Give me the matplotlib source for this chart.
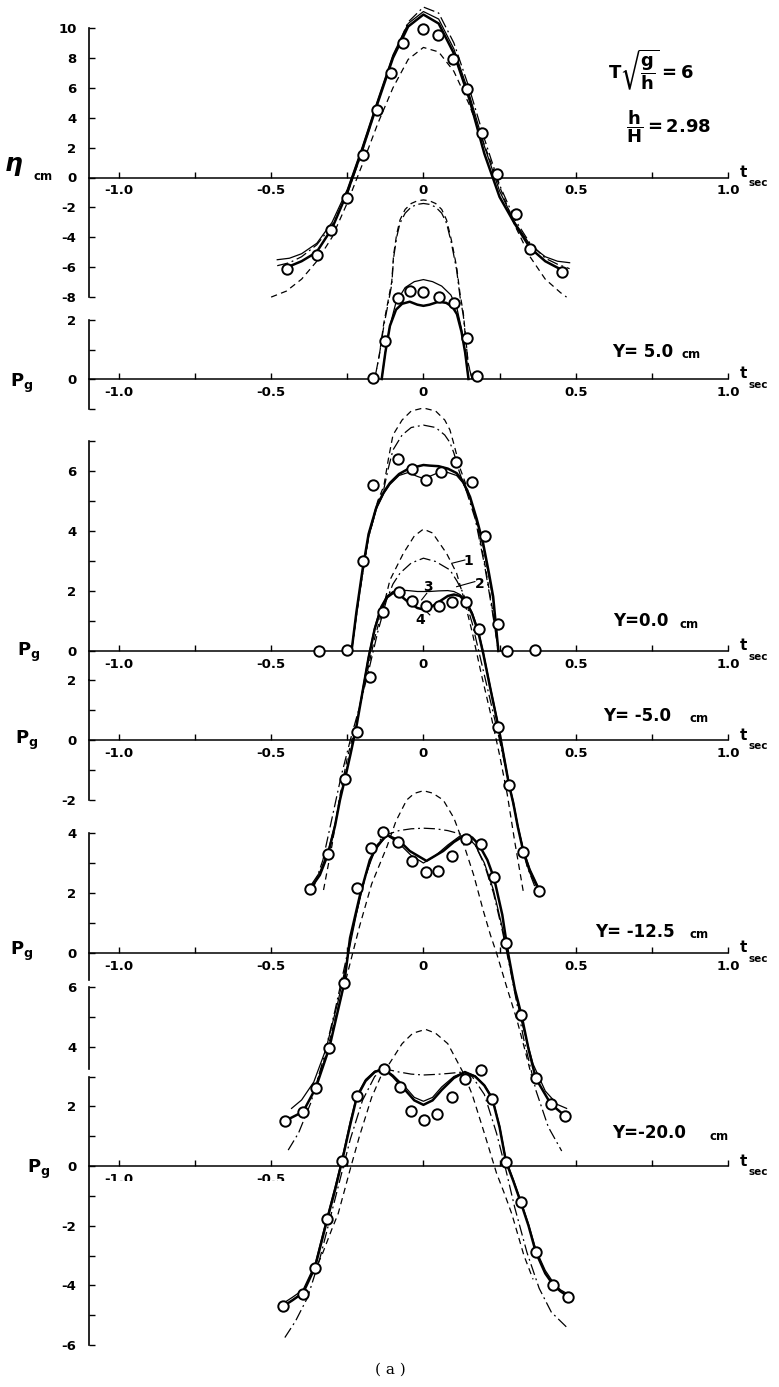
import matplotlib.pyplot as plt
import matplotlib.transforms as mtransforms

W, H = 779, 1387
plt.rcParams['font.family'] = 'DejaVu Sans'
plt.rcParams['font.weight'] = 'bold'
plt.rcParams['mathtext.fontset'] = 'dejavusans'
plt.rcParams['axes.unicode_minus'] = False

# ---- panel A : surface elevation eta (cm)
eta_mark_t = [-0.447, -0.351, -0.302, -0.252, -0.198, -0.154, -0.107, -0.068, -0.003,
              0.049, 0.096, 0.142, 0.191, 0.240, 0.304, 0.350, 0.456]
eta_mark = [-6.09, -5.2, -3.52, -1.35, 1.51, 4.53, 6.99, 9.0, 9.9,
            9.56, 7.93, 5.92, 2.97, 0.23, -2.45, -4.75, -6.3]
eta_thick_t = [-0.447, -0.40, -0.351, -0.30, -0.25, -0.20, -0.15, -0.10, -0.05, 0.0,
               0.05, 0.10, 0.15, 0.20, 0.25, 0.30, 0.35, 0.40, 0.456]
eta_thick = [-6.0, -5.6, -5.0, -3.4, -1.0, 1.9, 5.0, 8.0, 10.1, 10.9,
             10.3, 8.3, 5.3, 1.6, -1.3, -3.1, -4.7, -5.6, -6.2]
eta_t = [-0.48, -0.44, -0.40, -0.35, -0.30, -0.25, -0.20, -0.15, -0.10, -0.05, 0.0,
         0.05, 0.10, 0.15, 0.20, 0.25, 0.30, 0.35, 0.40, 0.44, 0.48]
eta_thin = [-5.5, -5.4, -5.1, -4.4, -3.0, -0.8, 2.1, 5.2, 8.2, 10.3, 11.1,
            10.6, 8.6, 5.6, 2.1, -0.9, -3.0, -4.5, -5.3, -5.6, -5.7]
eta_dashdot = [-5.9, -5.7, -5.3, -4.5, -3.2, -1.1, 1.8, 5.0, 8.1, 10.4, 11.4,
               11.0, 9.0, 6.0, 2.6, -0.5, -2.8, -4.4, -5.4, -5.8, -6.1]
eta_dashed_t = [-0.50, -0.45, -0.40, -0.35, -0.30, -0.25, -0.20, -0.15, -0.10, -0.05, 0.0,
                0.05, 0.10, 0.15, 0.20, 0.25, 0.30, 0.35, 0.40, 0.45, 0.47]
eta_dashed = [-8.0, -7.6, -6.8, -5.6, -4.0, -1.7, 0.9, 3.6, 6.0, 7.9, 8.7,
              8.4, 7.1, 4.9, 2.2, -0.6, -3.2, -5.3, -6.8, -7.7, -8.0]

# ---- panel B : Y = 5.0 cm
pB_mark_t = [-0.165, -0.126, -0.085, -0.044, -0.003, 0.051, 0.101, 0.144, 0.177]
pB_mark = [0.05, 1.29, 2.76, 2.99, 2.94, 2.79, 2.57, 1.38, 0.1]
pB_thick_t = [-0.137, -0.125, -0.11, -0.09, -0.07, -0.045, -0.02, 0.0, 0.02, 0.05,
              0.075, 0.095, 0.11, 0.125, 0.137, 0.148]
pB_thick = [0.0, 0.9, 1.8, 2.35, 2.55, 2.62, 2.52, 2.48, 2.52, 2.62,
            2.58, 2.45, 2.2, 1.6, 0.9, 0.0]
pB_thin_t = [-0.137, -0.125, -0.11, -0.09, -0.06, -0.03, 0.0, 0.03, 0.06, 0.09,
             0.11, 0.125, 0.137, 0.148]
pB_thin = [0.0, 0.9, 1.8, 2.6, 3.1, 3.3, 3.37, 3.3, 3.15, 2.85, 2.4, 1.7, 0.9, 0.0]
pB_tall_t = [-0.16, -0.145, -0.13, -0.115, -0.104, -0.098, -0.088, -0.077, -0.06, -0.04,
             -0.02, 0.0, 0.02, 0.04, 0.06, 0.076, 0.092, 0.109, 0.12, 0.131, 0.147, 0.16]
pB_dashed = [0.0, 0.8, 1.9, 2.7, 3.3, 4.2, 4.9, 5.39, 5.75, 5.95,
             6.04, 6.07, 6.04, 5.95, 5.75, 5.39, 4.7, 3.8, 2.9, 2.23, 0.53, 0.0]
pB_dashdot = [0.0, 0.8, 1.8, 2.6, 3.2, 4.1, 4.8, 5.28, 5.62, 5.83,
              5.92, 5.95, 5.92, 5.83, 5.62, 5.28, 4.6, 3.7, 2.8, 2.15, 0.5, 0.0]

# ---- panel C : Y = 0.0 cm
pC_mark_t = [-0.342, -0.25, -0.2, -0.167, -0.085, -0.037, 0.008, 0.057, 0.106, 0.16,
             0.202, 0.246, 0.273, 0.366]
pC_mark = [0.0, 0.03, 3.0, 5.53, 6.4, 6.07, 5.7, 5.98, 6.29, 5.62, 3.83, 0.89, 0.0, 0.03]
pC_t = [-0.236, -0.22, -0.20, -0.18, -0.154, -0.13, -0.11, -0.08, -0.05, -0.02, 0.0,
        0.02, 0.05, 0.08, 0.109, 0.13, 0.153, 0.175, 0.196, 0.215, 0.229, 0.246]
pC_thick = [0.0, 1.3, 2.7, 3.9, 4.81, 5.3, 5.6, 5.9, 6.07, 6.15, 6.2,
            6.18, 6.16, 6.08, 5.93, 5.65, 5.14, 4.4, 3.59, 2.6, 1.81, 0.0]
pC_thin = [0.0, 1.2, 2.6, 3.8, 4.75, 5.25, 5.55, 5.85, 5.95, 5.82, 5.75,
           5.82, 5.95, 5.95, 5.85, 5.6, 5.1, 4.35, 3.5, 2.5, 1.7, 0.0]
pC_tall_t = [-0.236, -0.21, -0.18, -0.15, -0.13, -0.115, -0.10, -0.07, -0.04, 0.0,
             0.04, 0.07, 0.087, 0.10, 0.12, 0.142, 0.17, 0.20, 0.225, 0.246]
pC_dashed = [0.0, 2.0, 3.9, 5.0, 5.5, 6.4, 7.2, 7.7, 8.0, 8.1,
             8.0, 7.7, 7.37, 6.9, 6.1, 5.48, 4.5, 3.0, 1.5, 0.0]
pC_dashdot = [0.0, 1.9, 3.8, 4.9, 5.4, 6.1, 6.7, 7.2, 7.45, 7.53,
              7.45, 7.2, 6.95, 6.6, 5.9, 5.3, 4.4, 2.9, 1.4, 0.0]

# ---- panel D : Y = -5.0 cm
pD_mark_t = [-0.373, -0.313, -0.258, -0.219, -0.174, -0.132, -0.08, -0.037, 0.01, 0.052,
             0.093, 0.139, 0.182, 0.246, 0.281, 0.328, 0.38]
pD_mark = [-4.98, -3.81, -1.31, 0.28, 2.11, 4.28, 4.92, 4.64, 4.48, 4.48,
           4.61, 4.61, 3.69, 0.44, -1.5, -3.72, -5.02]
pD_t = [-0.373, -0.34, -0.313, -0.29, -0.274, -0.258, -0.24, -0.22, -0.20, -0.18, -0.16,
        -0.14, -0.12, -0.10, -0.08, -0.05, -0.02, 0.0, 0.02, 0.05, 0.08, 0.10, 0.12,
        0.14, 0.16, 0.18, 0.196, 0.22, 0.246, 0.265, 0.281, 0.295, 0.31, 0.328, 0.35, 0.38]
pD_thick = [-4.98, -4.5, -3.8, -2.85, -2.0, -1.31, -0.5, 0.45, 1.6, 2.75, 3.7,
            4.35, 4.75, 4.9, 4.85, 4.6, 4.4, 4.35, 4.4, 4.6, 4.8, 4.85, 4.8,
            4.6, 4.2, 3.6, 2.9, 1.7, 0.44, -0.6, -1.5, -2.1, -2.9, -3.72, -4.4, -5.02]
pD_thin = [-4.9, -4.4, -3.7, -2.8, -1.95, -1.25, -0.45, 0.5, 1.65, 2.8, 3.75,
           4.45, 4.8, 4.95, 5.0, 4.98, 4.95, 4.95, 4.95, 4.97, 4.98, 4.95, 4.85,
           4.65, 4.25, 3.65, 2.95, 1.75, 0.5, -0.55, -1.45, -2.05, -2.85, -3.65, -4.3, -4.95]
pD_dashdot_t = [-0.36, -0.33, -0.30, -0.27, -0.24, -0.21, -0.18, -0.15, -0.121, -0.10,
                -0.077, -0.04, 0.0, 0.04, 0.087, 0.11, 0.131, 0.16, 0.19, 0.22, 0.25,
                0.28, 0.31, 0.34, 0.37]
pD_dashdot = [-4.9, -4.0, -2.6, -1.2, 0.0, 1.1, 2.3, 3.6, 4.67, 5.2,
              5.56, 5.9, 6.06, 5.95, 5.67, 5.3, 4.89, 3.9, 2.6, 1.3, 0.0,
              -1.4, -2.9, -4.2, -5.0]
pD_dashed_t = [-0.328, -0.30, -0.275, -0.25, -0.22, -0.19, -0.16, -0.13, -0.11, -0.066,
               -0.03, 0.0, 0.03, 0.076, 0.109, 0.131, 0.16, 0.19, 0.22, 0.25, 0.275,
               0.30, 0.328]
pD_dashed = [-5.0, -3.5, -1.9, -0.6, 0.6, 2.0, 3.4, 4.5, 5.33, 6.22,
             6.8, 7.03, 6.9, 6.22, 5.56, 4.78, 3.6, 2.2, 0.9, -0.5, -1.8,
             -3.4, -5.06]
pD_labels = ['1', '2', '3', '4']

# ---- panel E : Y = -12.5 cm
pE_mark_t = [-0.455, -0.395, -0.354, -0.309, -0.26, -0.217, -0.173, -0.134, -0.085, -0.037,
             0.007, 0.049, 0.095, 0.14, 0.188, 0.233, 0.27, 0.322, 0.369, 0.418, 0.465]
pE_mark = [-5.6, -5.29, -4.51, -3.16, -1.01, 2.16, 3.49, 4.02, 3.69, 3.08,
           2.71, 2.73, 3.24, 3.8, 3.63, 2.52, 0.32, -2.07, -4.18, -5.03, -5.43]
pE_thick_t = [-0.455, -0.395, -0.354, -0.309, -0.26, -0.241, -0.209, -0.176, -0.15, -0.12,
              -0.08, -0.045, 0.01, 0.065, 0.10, 0.136, 0.16, 0.183, 0.21, 0.232, 0.259,
              0.278, 0.30, 0.322, 0.345, 0.369, 0.418, 0.465]
pE_thick = [-5.6, -5.29, -4.51, -3.16, -1.01, 0.5, 1.9, 3.1, 3.6, 3.93,
            3.75, 3.4, 3.07, 3.4, 3.7, 3.93, 3.85, 3.6, 3.1, 2.49, 1.27,
            0.0, -1.2, -2.07, -3.2, -4.18, -5.03, -5.43]
pE_thin_t = [-0.433, -0.40, -0.36, -0.32, -0.28, -0.25, -0.22, -0.19, -0.16, -0.12, -0.08,
             -0.04, 0.0, 0.04, 0.08, 0.12, 0.14, 0.17, 0.20, 0.23, 0.26, 0.29, 0.32,
             0.36, 0.40, 0.44, 0.47]
pE_thin = [-5.18, -4.9, -4.3, -3.2, -1.6, -0.2, 1.3, 2.6, 3.4, 3.93, 3.65,
           3.25, 3.0, 3.25, 3.6, 3.9, 3.9, 3.6, 3.0, 2.1, 0.8, -0.7, -2.2,
           -3.7, -4.6, -5.05, -5.18]
pE_dashdot_t = [-0.444, -0.41, -0.37, -0.33, -0.29, -0.26, -0.23, -0.20, -0.17, -0.14,
                -0.12, -0.08, -0.04, 0.0, 0.04, 0.08, 0.12, 0.14, 0.17, 0.20, 0.23,
                0.26, 0.29, 0.33, 0.37, 0.41, 0.454]
pE_dashdot = [-6.57, -6.0, -5.0, -3.6, -1.9, -0.5, 0.9, 2.2, 3.2, 3.8,
              3.95, 4.08, 4.14, 4.16, 4.14, 4.08, 3.97, 3.9, 3.6, 2.95, 2.0,
              0.7, -0.8, -2.9, -4.6, -5.8, -6.6]
pE_dashed_t = [-0.35, -0.32, -0.29, -0.252, -0.21, -0.17, -0.12, -0.09, -0.055, -0.03, 0.0,
               0.03, 0.065, 0.10, 0.131, 0.165, 0.196, 0.22, 0.24, 0.273, 0.307, 0.335, 0.36]
pE_dashed = [-4.3, -3.4, -2.2, -0.79, 0.88, 2.3, 3.54, 4.4, 5.1, 5.32, 5.41,
             5.33, 5.1, 4.5, 3.66, 2.6, 1.43, 0.6, 0.0, -1.12, -2.23, -3.3, -4.3]

# ---- panel F : Y = -20.0 cm
pF_mark_t = [-0.46, -0.395, -0.356, -0.316, -0.267, -0.219, -0.13, -0.077, -0.042, 0.002,
             0.045, 0.093, 0.136, 0.188, 0.226, 0.271, 0.319, 0.369, 0.426, 0.476]
pF_mark = [-4.7, -4.29, -3.42, -1.76, 0.17, 2.36, 3.26, 2.65, 1.86, 1.55,
           1.74, 2.31, 2.93, 3.23, 2.26, 0.15, -1.2, -2.89, -3.98, -4.38]
pF_t = [-0.46, -0.43, -0.395, -0.356, -0.316, -0.29, -0.267, -0.24, -0.219, -0.19, -0.16,
        -0.13, -0.10, -0.06, -0.03, 0.0, 0.03, 0.06, 0.10, 0.136, 0.17, 0.20, 0.226,
        0.25, 0.271, 0.295, 0.319, 0.345, 0.369, 0.40, 0.426, 0.45, 0.476]
pF_thick = [-4.7, -4.5, -4.25, -3.4, -1.8, -0.8, 0.17, 1.4, 2.3, 2.85, 3.15,
            3.26, 3.0, 2.55, 2.2, 2.05, 2.2, 2.55, 2.95, 3.15, 3.0, 2.7, 2.26,
            1.3, 0.15, -0.5, -1.2, -2.0, -2.89, -3.6, -3.98, -4.2, -4.38]
pF_thin = [-4.6, -4.4, -4.15, -3.3, -1.7, -0.7, 0.25, 1.5, 2.35, 2.9, 3.18,
           3.26, 3.05, 2.65, 2.3, 2.17, 2.3, 2.65, 3.0, 3.15, 3.02, 2.72, 2.3,
           1.35, 0.2, -0.45, -1.15, -1.95, -2.8, -3.5, -3.9, -4.15, -4.3]
pF_dashdot_t = [-0.455, -0.42, -0.38, -0.34, -0.30, -0.27, -0.24, -0.20, -0.16, -0.13,
                -0.08, -0.04, 0.0, 0.04, 0.08, 0.13, 0.16, 0.20, 0.24, 0.27, 0.30,
                0.34, 0.38, 0.42, 0.476]
pF_dashdot = [-5.75, -5.2, -4.4, -3.1, -1.5, -0.3, 0.9, 2.2, 3.0, 3.26,
              3.15, 3.08, 3.05, 3.07, 3.1, 3.15, 3.0, 2.4, 1.1, -0.1, -1.4,
              -2.9, -4.1, -4.9, -5.46]
pF_dashed_t = [-0.36, -0.33, -0.30, -0.28, -0.26, -0.241, -0.21, -0.17, -0.14, -0.11,
               -0.07, -0.035, 0.007, 0.04, 0.08, 0.131, 0.16, 0.20, 0.24, 0.265, 0.29,
               0.33, 0.36]
pF_dashed = [-3.6, -2.9, -2.1, -1.6, -0.85, -0.13, 1.0, 2.3, 3.0, 3.46,
             4.1, 4.45, 4.58, 4.45, 4.1, 3.12, 2.4, 1.1, -0.24, -0.9, -1.6,
             -3.0, -3.8]

# ---- layout (pixel positions of the axes, measured from the top of the page)
T_LEFT, T_RIGHT = -1.098, 1.0
PX_LEFT, PX_RIGHT = 89, 728
x_major = [-1.0, -0.5, 0.0, 0.5, 1.0]
x_major_lbl = ['-1.0', '-0.5', '0', '0.5', '1.0']
x_minor = [-0.75, -0.25, 0.25, 0.75]

fig = plt.figure(figsize=(W / 100, H / 100), dpi=100)


def fpos(x, y):
    return x / W, 1 - y / H


def panel(top_px, bot_px, ylo, yhi, yticks, ylabels, xlabels=True):
    ax = fig.add_axes([PX_LEFT / W, 1 - bot_px / H, (PX_RIGHT - PX_LEFT) / W,
                       (bot_px - top_px) / H])
    ax.set_xlim(T_LEFT, T_RIGHT)
    ax.set_ylim(ylo, yhi)
    ax.patch.set_visible(False)
    ax.spines['top'].set_visible(False)
    ax.spines['right'].set_visible(False)
    ax.spines['bottom'].set_position(('data', 0))
    ax.spines['bottom'].set_linewidth(1.1)
    ax.spines['left'].set_linewidth(1.2)
    ax.set_xticks(x_major)
    ax.set_xticks(x_minor, minor=True)
    ax.set_xticklabels(x_major_lbl if xlabels else [''] * 5)
    ax.set_yticks(yticks)
    ax.set_yticklabels(ylabels)
    ax.tick_params(axis='x', which='both', direction='in', length=4, width=1.0,
                   pad=5, labelsize=9.5)
    ax.tick_params(axis='y', which='both', direction='in', length=4, width=1.0,
                   pad=9, labelsize=9.5)
    return ax


def curves(ax, thick=None, thin=None, dashdot=None, dashed=None, marks=None):
    if dashed is not None:
        ax.plot(*dashed, color='k', lw=0.9, dashes=(5, 3.5), clip_on=False)
    if dashdot is not None:
        ax.plot(*dashdot, color='k', lw=0.9, dashes=(9, 3, 1.5, 3), clip_on=False)
    if thin is not None:
        ax.plot(*thin, color='k', lw=0.9, clip_on=False)
    if thick is not None:
        ax.plot(*thick, color='k', lw=1.8, clip_on=False)
    if marks is not None:
        ax.plot(*marks, 'o', ms=7.5, mfc='white', mec='k', mew=1.4,
                clip_on=False, zorder=5)


# panel A
axA = panel(28.0, 297.1, -8, 10, list(range(-8, 11, 2)),
            [str(v) for v in range(-8, 11, 2)])
curves(axA, (eta_thick_t, eta_thick), (eta_t, eta_thin), (eta_t, eta_dashdot),
       (eta_dashed_t, eta_dashed), (eta_mark_t, eta_mark))

# panel B
axB = panel(320, 408.5, -1, 2, [-1, 0, 1, 2], ['', '0', '', '2'])
curves(axB, (pB_thick_t, pB_thick), (pB_thin_t, pB_thin), (pB_tall_t, pB_dashdot),
       (pB_tall_t, pB_dashed), (pB_mark_t, pB_mark))

# panel C
axC = panel(441, 679.5, -0.95, 7, list(range(0, 8)),
            ['0', '', '2', '', '4', '', '6', ''])
curves(axC, (pC_t, pC_thick), (pC_t, pC_thin), (pC_tall_t, pC_dashdot),
       (pC_tall_t, pC_dashed), (pC_mark_t, pC_mark))

# panel D
axD = panel(680, 800, -2, 2, [-2, -1, 0, 1, 2], ['-2', '', '0', '', '2'])
curves(axD, (pD_t, pD_thick), (pD_t, pD_thin), (pD_dashdot_t, pD_dashdot),
       (pD_dashed_t, pD_dashed), (pD_mark_t, pD_mark))
lbl_pos = [(0.147, 5.97), (0.186, 5.2), (0.016, 5.11), (-0.011, 4.0)]
leaders = [((0.093, 0.136), (5.89, 6.0)), ((0.109, 0.169), (5.11, 5.28)),
           ((-0.006, 0.011), (4.67, 4.89)), ((0.005, 0.021), (4.33, 4.17))]
for s, (lx, ly), (sx, sy) in zip(pD_labels, lbl_pos, leaders):
    axD.text(lx, ly, s, fontsize=10, ha='center', va='center', clip_on=False)
    axD.plot(sx, sy, color='k', lw=0.8, clip_on=False)

# panel E
axE = panel(833, 980, -0.9, 4, [0, 1, 2, 3, 4], ['0', '', '2', '', '4'])
curves(axE, (pE_thick_t, pE_thick), (pE_thin_t, pE_thin), (pE_dashdot_t, pE_dashdot),
       (pE_dashed_t, pE_dashed), (pE_mark_t, pE_mark))

# panel F (axis drawn in two pieces, as in the scan)
axF = panel(987, 1345, -6, 6, list(range(-6, 7)),
            ['-6', '', '-4', '', '-2', '', '0', '', '2', '', '4', '', '6'], xlabels=False)
axF.spines['left'].set_bounds(-6, 3.0)
axF.plot([0, 0], [3.25, 6], color='k', lw=1.2, transform=axF.get_yaxis_transform(),
         clip_on=False)
curves(axF, (pF_t, pF_thick), (pF_t, pF_thin), (pF_dashdot_t, pF_dashdot),
       (pF_dashed_t, pF_dashed), (pF_mark_t, pF_mark))
clip = mtransforms.Bbox.from_extents(0, H - 1181, W, H - 1170)
for xv, s in [(-1.0, '-1.0'), (-0.5, '-0.5')]:
    tx = axF.text(xv, 0, s, fontsize=9.5, ha='center', va='top',
                  transform=axF.transData + mtransforms.ScaledTranslation(0, -5 / 72, fig.dpi_scale_trans))
    tx.set_clip_box(clip)
    tx.set_clip_on(True)

# ---- axis names and annotations
fig.text(*fpos(14, 166), r'$\eta$', fontsize=18, ha='center', va='center')
fig.text(*fpos(43, 177), 'cm', fontsize=8.5, ha='center', va='center')
for x, y in [(22, 383), (29, 652), (27, 740), (22, 951), (39, 1169)]:
    fig.text(*fpos(x, y), r'$\mathbf{P_g}$', fontsize=13, ha='center', va='center')

zero_px = [177.5, 379, 651, 740, 953, 1166]
for y0 in zero_px:
    fig.text(*fpos(743, y0 - 5), 't', fontsize=11, ha='center', va='center')
    fig.text(*fpos(758, y0 + 6), 'sec', fontsize=7.5, ha='center', va='center')

ylabel_txt = ['Y= 5.0', 'Y=0.0', 'Y= -5.0', 'Y= -12.5', 'Y=-20.0']
ylabel_x = [612, 613, 603, 595, 612]
ylabel_y = [352, 621, 716, 932, 1133]
cm_x = [682, 680, 689, 689, 710]
for s, x, y, cx in zip(ylabel_txt, ylabel_x, ylabel_y, cm_x):
    fig.text(*fpos(x, y), s, fontsize=12, ha='left', va='center')
    fig.text(*fpos(cx, y + 3), 'cm', fontsize=8.5, ha='left', va='center')

fig.text(*fpos(651, 70), r'$\mathbf{T}\sqrt{\dfrac{\mathbf{g}}{\mathbf{h}}}\mathbf{=6}$',
         fontsize=13, ha='center', va='center')
fig.text(*fpos(669, 127), r'$\dfrac{\mathbf{h}}{\mathbf{H}}\mathbf{=2.98}$',
         fontsize=13, ha='center', va='center')
fig.text(*fpos(390, 1370), '( a )', fontsize=11, ha='center', va='center',
         family='DejaVu Serif', weight='normal')

fig.savefig('out.png', dpi=100)
